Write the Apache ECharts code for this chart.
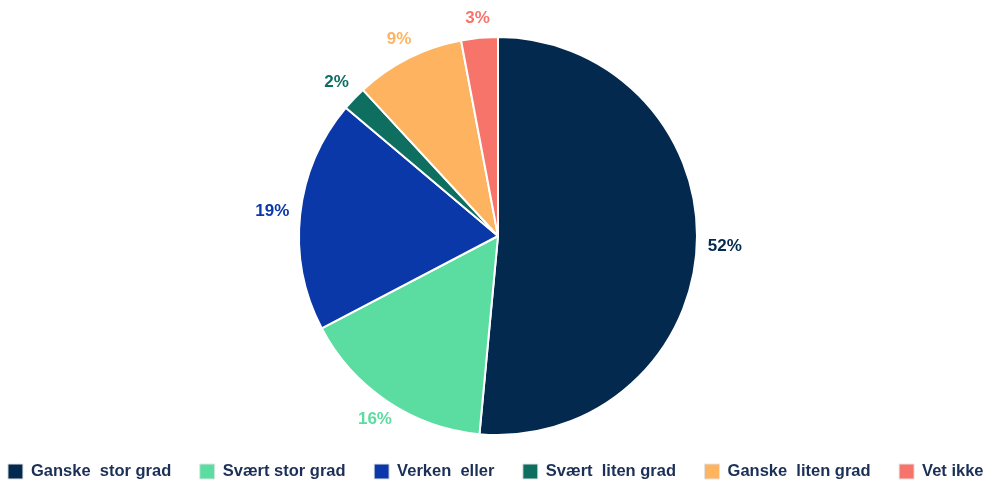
<!DOCTYPE html>
<html>
<head>
<meta charset="utf-8">
<script src="https://cdn.jsdelivr.net/npm/echarts@6/dist/echarts.min.js"></script>
<style>html,body{margin:0;padding:0;background:#fff}#c{width:991px;height:480px}</style>
</head>
<body>
<div id="c"></div>
<script>
const categories = ['Ganske  stor grad', 'Svært stor grad', 'Verken  eller', 'Svært  liten grad', 'Ganske  liten grad', 'Vet ikke'];
const values = [52, 16, 19, 2, 9, 3];
const colors = ['#03294F', '#5BDCA1', '#0B38A8', '#0E6F61', '#FDB35F', '#F7746A'];

const fontFamily = '"Liberation Sans", Arial, Helvetica, sans-serif';
const labelFontSize = 17;
const chart = echarts.init(document.getElementById('c'), null, {renderer: 'canvas'});

// measure label text to push each label box just outside the pie edge (like "anchor end / align end")
const ctx = document.createElement('canvas').getContext('2d');
ctx.font = 'bold ' + labelFontSize + 'px ' + fontFamily;
const total = values.reduce((a, b) => a + b, 0);
let cum = 0;
const labelData = categories.map((n, i) => {
  const mid = (cum + values[i] / 2) / total * Math.PI * 2;
  cum += values[i];
  const sx = Math.sin(mid), sy = -Math.cos(mid);
  const hw = ctx.measureText(values[i] + '%').width / 2, hh = 9;
  const t = Math.min(Math.abs(sx) > 1e-6 ? hw / Math.abs(sx) : 1e9, Math.abs(sy) > 1e-6 ? hh / Math.abs(sy) : 1e9);
  return {
    name: n, value: values[i],
    itemStyle: {color: 'rgba(0,0,0,0)'},
    label: {color: colors[i], offset: [sx * t, sy * t]}
  };
});
const pieData = categories.map((n, i) => ({name: n, value: values[i], itemStyle: {color: colors[i]}}));

chart.setOption({
  animation: false,
  backgroundColor: '#ffffff',
  legend: {
    top: 458,
    left: 'center',
    padding: [5, 1, 5, 7],
    itemWidth: 15,
    itemHeight: 15,
    itemGap: 28,
    icon: 'rect',
    selectedMode: false,
    textStyle: {fontFamily, fontSize: 16.5, fontWeight: 'bold', color: '#1B2F57', padding: [0, 0, 0, 3]},
    data: categories.map((n, i) => ({name: n, itemStyle: {color: colors[i], borderColor: '#e4e4e4', borderWidth: 1}}))
  },
  series: [
    {
      type: 'pie',
      center: [498, 236],
      radius: [0, 199],
      startAngle: 90,
      clockwise: true,
      silent: true,
      itemStyle: {borderColor: '#ffffff', borderWidth: 2},
      label: {show: false},
      labelLine: {show: false},
      data: pieData
    },
    {
      type: 'pie',
      center: [498, 236],
      radius: [202, 212],
      startAngle: 90,
      clockwise: true,
      silent: true,
      legendHoverLink: false,
      label: {
        show: true,
        position: 'inside',
        formatter: p => p.value + '%',
        fontFamily, fontSize: labelFontSize, fontWeight: 'bold'
      },
      labelLine: {show: false},
      data: labelData
    }
  ]
});
</script>
</body>
</html>
